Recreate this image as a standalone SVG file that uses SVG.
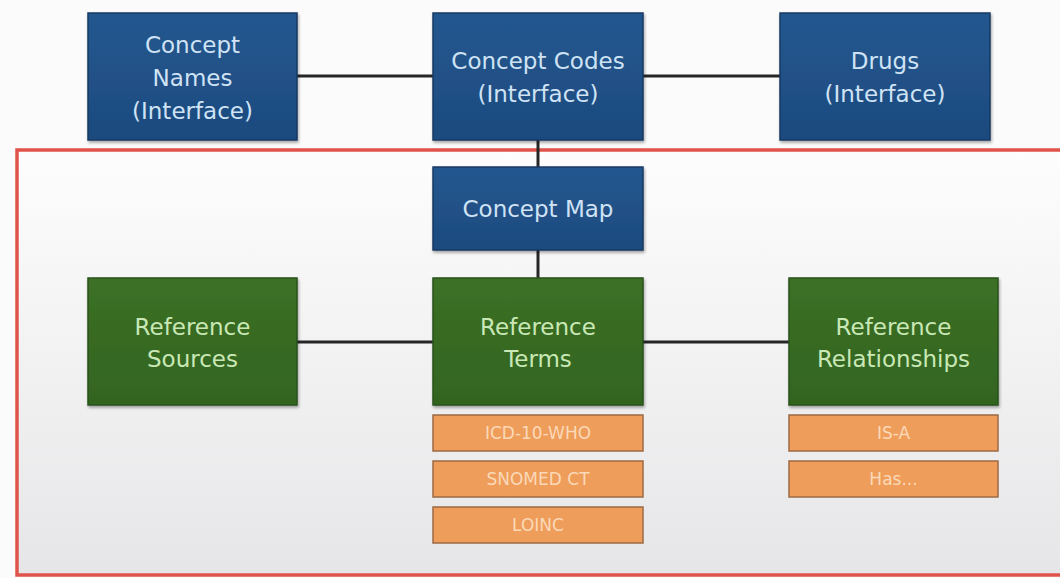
<svg xmlns="http://www.w3.org/2000/svg" width="1060" height="578" viewBox="0 0 1060 578">
<defs>
<linearGradient id="bg" x1="0" y1="0" x2="0" y2="1">
<stop offset="0" stop-color="#fdfdfd"/>
<stop offset="1" stop-color="#e6e6e8"/>
</linearGradient>
<linearGradient id="blue" x1="0" y1="0" x2="0" y2="1">
<stop offset="0" stop-color="#24578f"/>
<stop offset="1" stop-color="#1d4a7e"/>
</linearGradient>
<linearGradient id="green" x1="0" y1="0" x2="0" y2="1">
<stop offset="0" stop-color="#3b7026"/>
<stop offset="1" stop-color="#33641f"/>
</linearGradient>
<filter id="sh" x="-5%" y="-5%" width="110%" height="115%">
<feDropShadow dx="1" dy="2" stdDeviation="1.5" flood-color="#000" flood-opacity="0.35"/>
</filter>
</defs>
<style>
.blue{fill:url(#blue);stroke:#173a63;stroke-width:1.5;filter:url(#sh)}
.green{fill:url(#green);stroke:#2a521a;stroke-width:1.5;filter:url(#sh)}
.orange{fill:#ef9d5a;stroke:#9c6a44;stroke-width:1.5}
text{font-family:"DejaVu Sans","Liberation Sans",sans-serif;text-anchor:middle}
.bt{fill:#cfe3f5;font-size:23px}
.gt{fill:#c9e8b6;font-size:23px}
.ot{fill:#fbd9b8;font-size:17px}
.conn line{stroke:#262626;stroke-width:3}
</style>
<rect x="0" y="0" width="1060" height="578" fill="#fbfbfb"/>
<rect id="frame" x="17" y="150" width="1060" height="425" fill="url(#bg)" stroke="#e0534a" stroke-width="3.5"/>
<g class="conn" id="connectors">
<line x1="297" y1="76" x2="433" y2="76"/>
<line x1="643" y1="76" x2="780" y2="76"/>
<line x1="538" y1="140" x2="538" y2="167"/>
<line x1="538" y1="250" x2="538" y2="278"/>
<line x1="297" y1="342" x2="433" y2="342"/>
<line x1="643" y1="342" x2="789" y2="342"/>
</g>
<g id="concept-names">
<rect class="blue" x="88" y="13" width="209" height="127"/>
<text class="bt" x="192.5" y="53">Concept</text>
<text class="bt" x="192.5" y="86">Names</text>
<text class="bt" x="192.5" y="119">(Interface)</text>
</g>
<g id="concept-codes">
<rect class="blue" x="433" y="13" width="210" height="127"/>
<text class="bt" x="538" y="69">Concept Codes</text>
<text class="bt" x="538" y="102">(Interface)</text>
</g>
<g id="drugs">
<rect class="blue" x="780" y="13" width="210" height="127"/>
<text class="bt" x="885" y="69">Drugs</text>
<text class="bt" x="885" y="102">(Interface)</text>
</g>
<g id="concept-map">
<rect class="blue" x="433" y="167" width="210" height="83"/>
<text class="bt" x="538" y="217">Concept Map</text>
</g>
<g id="reference-sources">
<rect class="green" x="88" y="278" width="209" height="127"/>
<text class="gt" x="192.5" y="335">Reference</text>
<text class="gt" x="192.5" y="367">Sources</text>
</g>
<g id="reference-terms">
<rect class="green" x="433" y="278" width="210" height="127"/>
<text class="gt" x="538" y="335">Reference</text>
<text class="gt" x="538" y="367">Terms</text>
</g>
<g id="reference-relationships">
<rect class="green" x="789" y="278" width="209" height="127"/>
<text class="gt" x="893.5" y="335">Reference</text>
<text class="gt" x="893.5" y="367">Relationships</text>
</g>
<g id="icd-10-who">
<rect class="orange" x="433" y="415" width="210" height="36"/>
<text class="ot" x="538" y="439">ICD-10-WHO</text>
</g>
<g id="snomed-ct">
<rect class="orange" x="433" y="461" width="210" height="36"/>
<text class="ot" x="538" y="485">SNOMED CT</text>
</g>
<g id="loinc">
<rect class="orange" x="433" y="507" width="210" height="36"/>
<text class="ot" x="538" y="531">LOINC</text>
</g>
<g id="is-a">
<rect class="orange" x="789" y="415" width="209" height="36"/>
<text class="ot" x="893.5" y="439">IS-A</text>
</g>
<g id="has">
<rect class="orange" x="789" y="461" width="209" height="36"/>
<text class="ot" x="893.5" y="485">Has...</text>
</g>
</svg>
